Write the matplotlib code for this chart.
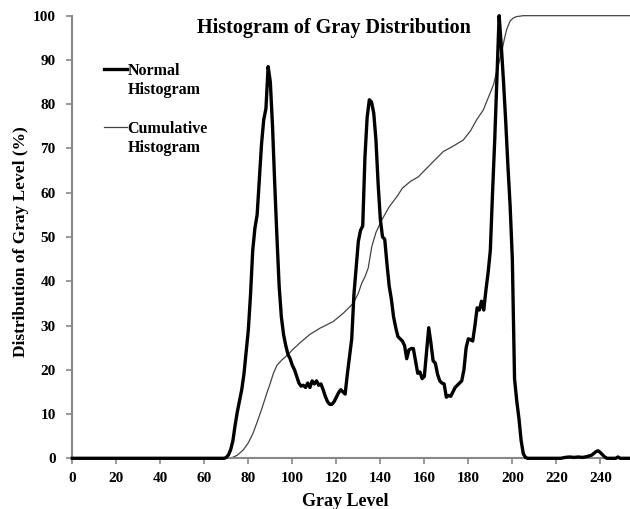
import matplotlib
matplotlib.use('Agg')
import matplotlib.pyplot as plt
from matplotlib import rcParams
from matplotlib.legend_handler import HandlerLine2D

config = {
    "font.family": 'serif',
    "font.serif": ['Liberation Serif', 'DejaVu Serif'],
    "font.weight": 'bold',
    "font.size": 11,
    "axes.labelweight": 'bold',
}
rcParams.update(config)

# 普通直方图 (gray level, %)
norm_x = [0, 69, 70, 71, 72, 73, 74, 75, 76, 77, 78, 79, 80, 81, 82, 83, 84, 85, 86, 87,
          88, 89, 90, 91, 92, 93, 94, 95, 96, 97, 98, 99, 100, 101, 102, 103, 104, 105, 106, 107,
          108, 109, 110, 111, 112, 113, 114, 115, 116, 117, 118, 119, 120, 121, 122, 123, 124, 125, 126, 127,
          128, 129, 130, 131, 132, 133, 134, 135, 136, 137, 138, 139, 140, 141, 142, 143, 144, 145, 146, 147,
          148, 149, 150, 151, 152, 153, 154, 155, 156, 157, 158, 159, 160, 161, 162, 163, 164, 165, 166, 167,
          168, 169, 170, 171, 172, 173, 174, 175, 176, 177, 178, 179, 180, 181, 182, 183, 184, 185, 186, 187,
          188, 189, 190, 191, 192, 193, 194, 195, 196, 197, 198, 199, 200, 201, 202, 203, 204, 205, 206, 207,
          222, 224, 226, 228, 230, 232, 234, 236, 238, 239, 240, 241, 242, 243, 247, 248, 249, 255]
norm_y = [0, 0, 0.2, 0.8, 2, 4, 7.5, 10.5, 13, 15.5, 19, 24, 29, 37, 47, 52, 55, 63, 71, 76.5,
          79, 88.5, 85, 75, 62, 50, 39, 32, 28, 25.5, 23.5, 22.5, 21, 20, 18.5, 17, 16.3, 16.5, 16, 17,
          16, 17.5, 16.8, 17.5, 16.5, 16.8, 15.5, 14, 12.8, 12.2, 12.2, 12.8, 13.8, 14.8, 15.5, 15, 14.5, 19, 23, 27,
          37, 43, 49, 51.5, 52.5, 68, 77, 81, 80.5, 78, 72, 62, 54, 50, 49.5, 44, 39, 36, 32, 29.5,
          27.5, 27, 26.5, 25.5, 22.5, 24.5, 24.8, 24.8, 22, 19.2, 19.5, 18, 18.5, 24, 29.5, 26, 22, 21.5, 19, 17.5,
          17, 16.8, 13.8, 14.2, 14, 15, 16, 16.5, 17, 17.5, 20, 25, 27, 26.8, 26.5, 30, 34, 33.5, 35.5, 33.5,
          38, 42, 47, 60, 72, 86, 100, 93, 85, 76, 66, 57, 45, 18, 13, 9, 4, 1, 0.2, 0,
          0, 0.2, 0.3, 0.2, 0.3, 0.2, 0.4, 0.7, 1.5, 1.7, 1.3, 0.8, 0.3, 0, 0, 0.3, 0, 0]

# 累积直方图
cum_x = [0, 72, 75, 77.7, 80, 82, 83.8, 86, 88.4, 90, 91.4, 93, 95.2, 98.2, 100, 103.5, 108, 112.6,
         118.6, 123.2, 127.7, 130, 131.5, 133, 134.5, 136.1, 138, 140.6, 144, 147.5, 150, 153.5, 157.3,
         162, 168.6, 173, 177.7, 181, 183.8, 186.8, 189.9, 191.5, 192.9, 194, 195.2, 196.5, 197.5,
         199, 200.5, 202, 205, 255]
cum_y = [0, 0, 0.7, 1.9, 3.5, 5.5, 7.9, 11, 14.7, 17, 19.2, 21, 22.2, 23.5, 24.5, 26.1, 28, 29.4,
         30.9, 32.8, 35, 37.3, 39.5, 41, 43, 47.8, 51, 53.8, 56.8, 59.1, 61, 62.5, 63.6,
         66, 69.3, 70.5, 71.9, 74, 76.5, 78.7, 82.5, 84.5, 87.5, 89.5, 92, 95, 97,
         98.8, 99.5, 99.8, 100, 100]

xticks = list(range(0, 241, 20))
yticks = list(range(0, 101, 10))


class HandlerTopLine(HandlerLine2D):
    # 图例线对齐到第一行文字
    def create_artists(self, legend, orig_handle, xdescent, ydescent, width, height, fontsize, trans):
        arts = super().create_artists(legend, orig_handle, xdescent, ydescent,
                                      width, height, fontsize, trans)
        for a in arts:
            a.set_ydata([y + 0.75 * fontsize for y in a.get_ydata()])
        return arts


fig = plt.figure(figsize=(6.3, 5.09), dpi=100)
ax = fig.add_axes([0.1148, 0.0996, 0.8905, 0.8696])

ax.plot(norm_x, norm_y, color='black', lw=2.4, label='Normal\nHistogram', clip_on=False, zorder=3)
ax.plot(cum_x, cum_y, color='#444444', lw=0.9, label='Cumulative\nHistogram', clip_on=False, zorder=2)

ax.set_xlim(0, 255)
ax.set_ylim(0, 100)
ax.set_xticks(xticks)
ax.set_yticks(yticks)

# 坐标轴样式
for s in ['top', 'right']:
    ax.spines[s].set_visible(False)
for s in ['left', 'bottom']:
    ax.spines[s].set_color('#888888')
    ax.spines[s].set_linewidth(1.5)
ax.tick_params(axis='y', direction='out', length=4, width=1.2, color='#888888', pad=8, labelsize=11)
ax.tick_params(axis='x', direction='out', length=4, width=1.2, color='#888888', pad=6, labelsize=11)

ax.set_xlabel('Gray Level', fontsize=13, fontweight='bold')
ax.set_ylabel('Distribution of Gray Level (%)', fontsize=12.5, fontweight='bold')
ax.xaxis.set_label_coords(0.486, -0.078)
ax.yaxis.set_label_coords(-0.077, 0.489)

ax.text(0.467, 0.972, 'Histogram of Gray Distribution', transform=ax.transAxes,
        ha='center', va='center', fontsize=14.5, fontweight='bold')

leg = ax.legend(loc='upper left', bbox_to_anchor=(0.031, 0.925), frameon=False,
                handlelength=1.45, handletextpad=0.0, labelspacing=1.45, fontsize=11.5,
                handler_map={plt.Line2D: HandlerTopLine()})
for t in leg.get_texts():
    t.set_linespacing(1.25)

plt.savefig('out.png', dpi=100)
